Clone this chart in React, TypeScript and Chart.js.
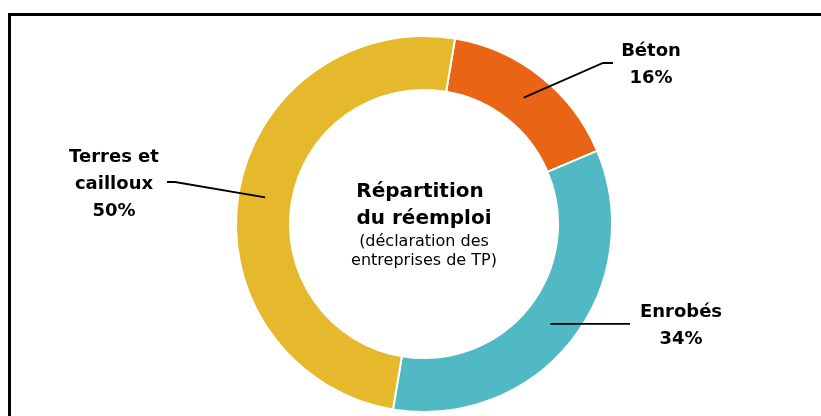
import React, { useEffect, useRef } from "react";
import { Chart, registerables } from "chart.js";

Chart.register(...registerables);

const categories = ["Béton", "Enrobés", "Terres et cailloux"];
const shares = [16, 34, 50];
const colors = ["#EA6415", "#51B9C3", "#E6B82C"];
const labelLines = [["Béton", "16%"], ["Enrobés", "34%"], ["Terres et", "cailloux", "50%"]];
const centerTitle = ["Répartition", "du réemploi"];
const centerSub = ["(déclaration des", "entreprises de TP)"];

const FONT = "'DejaVu Sans', sans-serif";

// label placement: text centre x, first line y, leader line elbow points
const labelLayout = [
  { x: 651, y: 51, path: [[603, 63], [613, 63]] },
  { x: 681, y: 312, path: [[630, null]] },
  { x: 114, y: 157, path: [[175, 182], [167, 182]] },
];

const labelPlugin = {
  id: "labelPlugin",
  afterDraw(chart: any) {
    const ctx = chart.ctx;
    const meta = chart.getDatasetMeta(0);
    ctx.save();
    meta.data.forEach((arc: any, i: number) => {
      const p = arc.tooltipPosition();
      const lay = labelLayout[i];
      ctx.beginPath();
      ctx.moveTo(p.x, p.y);
      lay.path.forEach((pt: any) => ctx.lineTo(pt[0], pt[1] == null ? p.y : pt[1]));
      ctx.strokeStyle = "#000";
      ctx.lineWidth = 1.8;
      ctx.stroke();
      ctx.fillStyle = "#000";
      ctx.font = `bold 18px ${FONT}`;
      ctx.textAlign = "center";
      ctx.textBaseline = "middle";
      labelLines[i].forEach((t, k) => ctx.fillText(t, lay.x, lay.y + k * 27));
    });
    const cx = (chart.chartArea.left + chart.chartArea.right) / 2;
    const cy = (chart.chartArea.top + chart.chartArea.bottom) / 2;
    ctx.font = `bold 20px ${FONT}`;
    ctx.fillText(centerTitle[0], cx - 4, cy - 32);
    ctx.fillText(centerTitle[1], cx, cy - 5);
    ctx.font = `16px ${FONT}`;
    ctx.fillText(centerSub[0], cx, cy + 18);
    ctx.fillText(centerSub[1], cx, cy + 37);
    ctx.restore();
  },
};

export default function App() {
  const ref = useRef<HTMLCanvasElement>(null);
  useEffect(() => {
    const chart = new Chart(ref.current as HTMLCanvasElement, {
      type: "doughnut",
      data: {
        labels: categories,
        datasets: [
          {
            data: shares,
            backgroundColor: colors,
            borderColor: "#ffffff",
            borderWidth: 2,
            hoverOffset: 0,
            offset: 0,
          },
        ],
      },
      options: {
        responsive: false,
        animation: false,
        rotation: 9.5,
        cutout: "71.3%",
        layout: { padding: { top: 35, bottom: 3, left: 27, right: 0 } },
        plugins: { legend: { display: false }, tooltip: { enabled: false } },
        events: [],
      },
      plugins: [labelPlugin],
    });
    return () => chart.destroy();
  }, []);
  return (
    <div style={{ position: "fixed", left: 0, top: 0, width: 821, height: 416, overflow: "hidden", background: "#fff" }}>
      <div
        style={{
          position: "absolute",
          left: 8,
          top: 13,
          width: 900,
          height: 500,
          borderLeft: "3px solid #000",
          borderTop: "3px solid #000",
        }}
      />
      <canvas ref={ref} width={821} height={416} style={{ position: "absolute", left: 0, top: 0, width: 821, height: 416 }} />
    </div>
  );
}
